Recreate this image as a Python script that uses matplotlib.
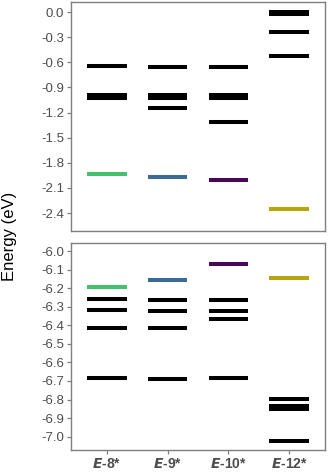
import matplotlib
matplotlib.use("Agg")
import matplotlib.pyplot as plt
import numpy as np

plt.rcParams['font.family'] = ['Liberation Sans', 'DejaVu Sans']
plt.rcParams['axes.unicode_minus'] = False

categories = ["8", "9", "10", "12"]
colors = ["#45c06c", "#3a6a96", "#48085a", "#b7a50c"]

# Top panel (LUMO region) energies, eV
top_black = [
    [-0.64, -0.985, -1.025],
    [-0.65, -0.985, -1.025, -1.15],
    [-0.655, -0.99, -1.03, -1.31],
    [0.002, -0.018, -0.24, -0.525],
]
top_color = [-1.93, -1.97, -2.005, -2.35]

# Bottom panel (HOMO region) energies, eV
bot_black = [
    [-6.257, -6.32, -6.416, -6.684],
    [-6.264, -6.323, -6.415, -6.689],
    [-6.266, -6.325, -6.366, -6.684],
    [-6.795, -6.835, -6.85, -7.025],
]
bot_color = [-6.194, -6.158, -6.072, -6.145]

top_ticks = [0.0, -0.3, -0.6, -0.9, -1.2, -1.5, -1.8, -2.1, -2.4]
bot_ticks = [-6.0, -6.1, -6.2, -6.3, -6.4, -6.5, -6.6, -6.7, -6.8, -6.9, -7.0]

W, H = 328, 472
fig = plt.figure(figsize=(W / 100, H / 100), dpi=100)

def px_axes(left, top, right, bottom):
    return fig.add_axes([left / W, 1 - bottom / H, (right - left) / W, (bottom - top) / H])

ax_top = px_axes(71, 2, 325, 230.7)
ax_bot = px_axes(71, 242.7, 325, 450)

half = 0.325
lw = 2.9
frame_col = "#7f7f7f"
tick_col = "#4d4d4d"

def draw(ax, blacks, cols, ticks, ylim):
    for i, levels in enumerate(blacks):
        for e in levels:
            ax.hlines(e, i - half, i + half, colors="black", linewidth=lw, capstyle="butt")
    for i, e in enumerate(cols):
        ax.hlines(e, i - half, i + half, colors=colors[i], linewidth=lw, capstyle="butt")
    ax.set_xlim(-0.59, 3.59)
    ax.set_ylim(*ylim)
    ax.set_yticks(ticks)
    ax.set_yticklabels([f"{t:.1f}" for t in ticks])
    for s in ax.spines.values():
        s.set_color(frame_col)
        s.set_linewidth(1.0)
    ax.tick_params(axis="both", colors=frame_col, labelcolor=tick_col, labelsize=9.5,
                   length=3, width=0.9, direction="out", pad=2)

draw(ax_top, top_black, top_color, top_ticks, (-2.61, 0.12))
draw(ax_bot, bot_black, bot_color, bot_ticks, (-7.072, -5.955))

ax_top.set_xticks([])
ax_bot.set_xticks(range(len(categories)))
ax_bot.set_xticklabels([rf"$\mathbfit{{E}}$-{c}*" for c in categories], fontweight="bold",
                       fontsize=10)
ax_bot.tick_params(axis="x", pad=2)

fig.text(10 / W, 0.5, "Energy (eV)", rotation=90, ha="center", va="center",
         fontsize=12, color="black")

fig.savefig("out.png", dpi=100)
